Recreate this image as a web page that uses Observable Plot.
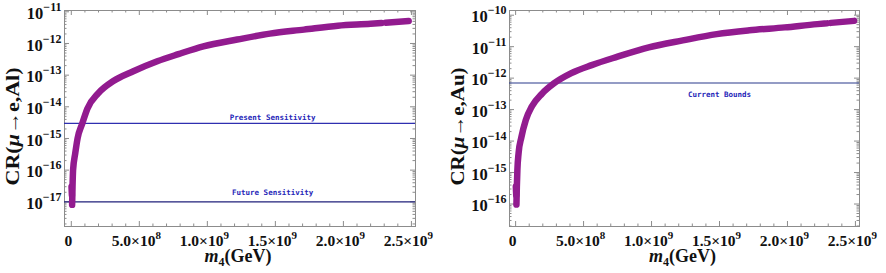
<!DOCTYPE html>
<html><head><meta charset="utf-8">
<script src="https://cdn.jsdelivr.net/npm/d3@7"></script>
<script src="https://cdn.jsdelivr.net/npm/@observablehq/plot@0.6"></script>
<style>
body{margin:0;background:#fff;}
#row{display:flex;width:886px;height:273px;overflow:hidden;}
#row svg{display:block;}
</style></head><body><div id="row"></div>
<script>
// ---- data ----
// Left panel: CR(mu -> e, Al)
const alMass = [1.5e6, 4.5e6, 6e6, 9e6, 1.3e7, 2.9e7, 4.6e7, 8.1e7, 1.18e8, 1.99e8, 3.09e8, 4.56e8, 6.32e8, 7.87e8, 9.71e8, 1.22e9, 1.46e9, 1.71e9, 1.96e9, 2.2e9, 2.28e9, 2.31e9, 2.48e9];
const alCR   = [3.0e-17, 1.6e-17, 8e-18, 3e-17, 1e-16, 3.4e-16, 1e-15, 3e-15, 8.7e-15, 2.7e-14, 6.5e-14, 1.33e-13, 2.75e-13, 4.6e-13, 8.1e-13, 1.33e-12, 2.05e-12, 2.74e-12, 3.65e-12, 4.2e-12, 4.45e-12, 4.55e-12, 5.1e-12];
const alSeg  = [0, 0, 1, 1, 1, 1, 1, 1, 1, 1, 1, 1, 1, 1, 1, 1, 1, 1, 1, 1, 1, 2, 2];
// Right panel: CR(mu -> e, Au)
const auMass = [1.5e6, 4.5e6, 6e6, 9e6, 1.3e7, 2.2e7, 4.2e7, 7.5e7, 1.19e8, 1.94e8, 2.84e8, 4.1e8, 5.6e8, 7.5e8, 9.8e8, 1.23e9, 1.48e9, 1.72e9, 1.98e9, 2.22e9, 2.29e9, 2.32e9, 2.49e9];
const auCR   = [3.6e-16, 1.9e-16, 9.6e-17, 3.5e-16, 1.2e-15, 4.2e-15, 1.3e-14, 4.7e-14, 1.25e-13, 3.2e-13, 6.9e-13, 1.44e-12, 2.6e-12, 4.8e-12, 9.5e-12, 1.58e-11, 2.5e-11, 3.3e-11, 4.1e-11, 5.2e-11, 5.5e-11, 5.7e-11, 6.6e-11];
const auSeg  = [0, 0, 1, 1, 1, 1, 1, 1, 1, 1, 1, 1, 1, 1, 1, 1, 1, 1, 1, 1, 1, 2, 2];
// bounds
const alBounds = [3e-15, 1e-17];
const alBoundLabels = ["Present Sensitivity", "Future Sensitivity"];
const auBounds = [7e-13];
const auBoundLabels = ["Current Bounds"];
// ticks
const xTicks = [0, 5e8, 1e9, 1.5e9, 2e9, 2.5e9];
const xTickLabels = ["0", "5.0\u00d710^8", "1.0\u00d710^9", "1.5\u00d710^9", "2.0\u00d710^9", "2.5\u00d710^9"];
const alYTicks = [1e-17, 1e-16, 1e-15, 1e-14, 1e-13, 1e-12, 1e-11];
const auYTicks = [1e-16, 1e-15, 1e-14, 1e-13, 1e-12, 1e-11, 1e-10];

const FRAME = "#8c8c8c";
const CURVE = "#921b8f";
const SERIF = "'Liberation Serif','Times New Roman',serif";

function minorLog(domain) {
  const out = [];
  const lo = Math.floor(Math.log10(domain[0])), hi = Math.ceil(Math.log10(domain[1]));
  for (let k = lo; k <= hi; k++) for (let m = 2; m <= 9; m++) {
    const v = m * Math.pow(10, k);
    if (v > domain[0] && v < domain[1]) out.push(v);
  }
  return out;
}
function supify(el, size, rise) {
  const s = el.textContent;
  const [base, sup] = s.split("^");
  el.textContent = base;
  const t = document.createElementNS("http://www.w3.org/2000/svg", "tspan");
  t.setAttribute("font-size", size + "px");
  t.setAttribute("dy", (-rise) + "px");
  t.textContent = sup;
  el.appendChild(t);
}
function tsp(parent, txt, attrs) {
  const t = document.createElementNS("http://www.w3.org/2000/svg", "tspan");
  for (const k in attrs) t.setAttribute(k, attrs[k]);
  t.textContent = txt;
  parent.appendChild(t);
}
function findText(svg, content) {
  return Array.from(svg.querySelectorAll("text")).find(t => t.textContent === content);
}

function panel(o) {
  const W = 443, H = 273, mt = 10, mb = 47;
  const fw = W - o.ml - o.mr, fh = H - mt - mb;
  const rows = o.mass.map((m, i) => ({m, cr: o.cr[i], seg: o.seg[i]}));
  const xMinor = d3.range(1e8, 2.55e9, 1e8).filter(v => !xTicks.some(t => Math.abs(t - v) < 1));
  const yMinor = minorLog(o.yDomain);
  const yMaj = o.yTicks.filter(v => v >= o.yDomain[0] && v <= o.yDomain[1]);
  const marks = [
    Plot.frame({stroke: FRAME, strokeWidth: 1}),
    Plot.tickY(yMaj, {y: d => d, insetRight: fw - 5, stroke: FRAME}),
    Plot.tickY(yMaj, {y: d => d, insetLeft: fw - 5, stroke: FRAME}),
    Plot.tickY(yMinor, {y: d => d, insetRight: fw - 2.5, stroke: FRAME}),
    Plot.tickY(yMinor, {y: d => d, insetLeft: fw - 2.5, stroke: FRAME}),
    Plot.tickX(xTicks, {x: d => d, insetTop: fh - 5, stroke: FRAME}),
    Plot.tickX(xTicks, {x: d => d, insetBottom: fh - 5, stroke: FRAME}),
    Plot.tickX(xMinor, {x: d => d, insetTop: fh - 2.5, stroke: FRAME}),
    Plot.tickX(xMinor, {x: d => d, insetBottom: fh - 2.5, stroke: FRAME}),
    Plot.axisY(yMaj, {label: null, tickSize: 0, tickPadding: 3, dy: 2, fontSize: 16.5,
      tickFormat: d => "10^\u2212" + Math.round(-Math.log10(d))}),
    Plot.axisX(xTicks, {label: null, tickSize: 0, tickPadding: 8, dx: -3, fontSize: 15.5,
      tickFormat: d => xTickLabels[xTicks.indexOf(d)]}),
    ...o.bounds.map((b, i) => Plot.ruleY([b], {stroke: o.boundColors[i], strokeWidth: 1.2})),
    ...o.bounds.map((b, i) => Plot.text([o.boundLabels[i]], {x: o.labelX, y: () => b, dy: o.labelDy[i],
      fill: "#2626b8", fontSize: 7.5, fontWeight: "bold", fontFamily: "'DejaVu Sans Mono',monospace"})),
    Plot.line(rows, {x: "m", y: "cr", z: "seg", stroke: CURVE, strokeWidth: 6.5,
      strokeLinecap: "round", strokeLinejoin: "round", curve: "monotone-x"}),
    Plot.text(["YTITLE"], {frameAnchor: "left", textAnchor: "middle", lineAnchor: "middle", rotate: -90,
      dx: -51.5, dy: 8, fontSize: 19, fontWeight: "bold", fill: "#111"}),
    Plot.text(["XTITLE"], {frameAnchor: "bottom", textAnchor: "middle", lineAnchor: "middle",
      dx: -2, dy: 30, fontSize: 18, fontWeight: "bold", fill: "#111"})
  ];
  const svg = Plot.plot({
    width: W, height: H, marginLeft: o.ml, marginRight: o.mr, marginTop: mt, marginBottom: mb,
    style: {fontFamily: SERIF, fontWeight: "bold", color: "#111", background: "white", overflow: "visible"},
    x: {domain: o.xDomain},
    y: {type: "log", domain: o.yDomain},
    marks
  });
  svg.querySelectorAll("text").forEach(t => {
    if (!t.textContent.includes("^")) return;
    if (t.textContent.startsWith("10^")) supify(t, 12, 8);
    else supify(t, 11, 7);
  });
  const yt = findText(svg, "YTITLE");
  if (yt) {
    yt.textContent = "CR(";
    tsp(yt, "\u03bc", {"font-style": "italic"});
    tsp(yt, "\u2192e," + o.element + ")", {});
    yt.setAttribute("textLength", 118);
    yt.setAttribute("lengthAdjust", "spacingAndGlyphs");
  }
  const xt = findText(svg, "XTITLE");
  if (xt) {
    xt.textContent = "";
    tsp(xt, "m", {"font-style": "italic"});
    tsp(xt, "4", {"font-size": "12px", dy: "4px"});
    tsp(xt, "(GeV)", {dy: "-4px"});
  }
  return svg;
}

const row = document.getElementById("row");
row.appendChild(panel({
  mass: alMass, cr: alCR, seg: alSeg, element: "Al",
  ml: 64, mr: 28, xDomain: [-5e7, 2.53e9], yDomain: [1.66e-18, 1.1e-11], yTicks: alYTicks,
  bounds: alBounds, boundLabels: alBoundLabels, boundColors: ["#2f2fb0", "#20207a"],
  labelX: 1.48e9, labelDy: [-6, -9]
}));
row.appendChild(panel({
  mass: auMass, cr: auCR, seg: auSeg, element: "Au",
  ml: 66, mr: 27, xDomain: [-4.5e7, 2.53e9], yDomain: [1.93e-17, 1.41e-10], yTicks: auYTicks,
  bounds: auBounds, boundLabels: auBoundLabels, boundColors: ["#2a3a8c"],
  labelX: 1.5e9, labelDy: [12]
}));
</script></body></html>
